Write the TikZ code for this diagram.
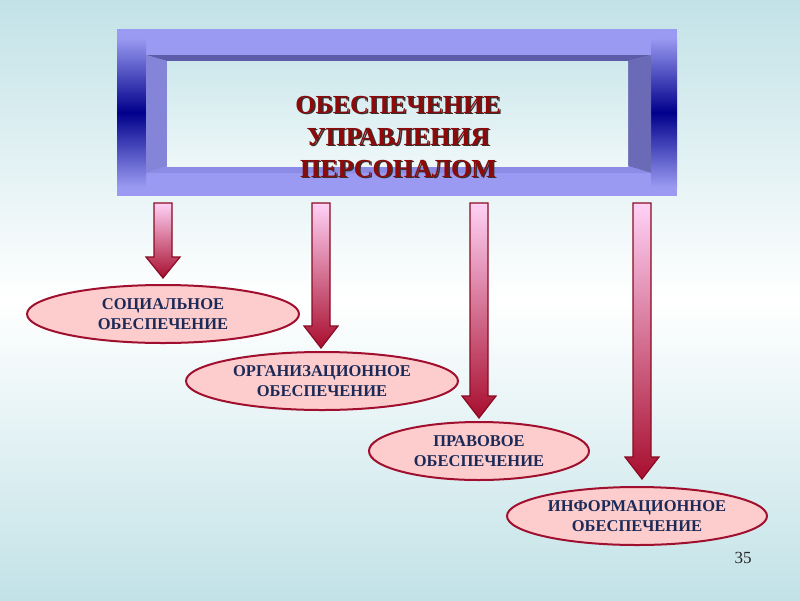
\documentclass[tikz,border=0pt]{standalone}
\usepackage{fontspec}
\setmainfont{Liberation Serif}
\usetikzlibrary{shapes.geometric, positioning}
\definecolor{bgTeal}{HTML}{C2E2E7}
\definecolor{framePeri}{HTML}{9A9AF2}
\definecolor{frameNavy}{HTML}{00008C}
\definecolor{bevelTop}{HTML}{5C5CA8}
\definecolor{bevelLeft}{HTML}{8484D8}
\definecolor{bevelRight}{HTML}{6A6AB6}
\definecolor{bevelBottom}{HTML}{8C8CE6}
\definecolor{windowTop}{HTML}{CDE8EC}
\definecolor{windowBottom}{HTML}{EEF7F8}
\definecolor{titleRed}{HTML}{8E0A0A}
\definecolor{arrowPink}{HTML}{FFD2F6}
\definecolor{arrowRed}{HTML}{A80E2E}
\definecolor{arrowEdge}{HTML}{8A0A22}
\definecolor{ovalFill}{HTML}{FDCDCD}
\definecolor{ovalEdge}{HTML}{A0102E}
\definecolor{ovalText}{HTML}{1C2A58}
\tikzset{%
% Specifications for style of nodes:
titletext/.style = {align=center, font=\fontsize{26}{32}\selectfont\bfseries},
oval/.style = {ellipse, draw=ovalEdge, line width=2pt, fill=ovalFill, inner sep=0, minimum height=58pt, text=ovalText, align=center, font=\fontsize{16.5}{20}\selectfont\bfseries},
blockarrow/.style = {draw=arrowEdge, line width=1.2pt, top color=arrowPink, bottom color=arrowRed},
}
\begin{document}
\begin{tikzpicture}[x=1pt, y=-1pt]
        % Background
        \shade[top color=bgTeal, bottom color=bgTeal, middle color=white] (0,0) rectangle (800,600);
        \useasboundingbox (0,0) rectangle (800,600);

        % Frame with bevel
        \fill[framePeri] (117,29) rectangle (677,196);
        \shade[top color=framePeri, bottom color=framePeri, middle color=frameNavy] (117,38) rectangle (146,187);
        \shade[top color=framePeri, bottom color=framePeri, middle color=frameNavy] (651,38) rectangle (677,187);
        \fill[bevelTop] (146,55) -- (651,55) -- (628,61) -- (167,61) -- cycle;
        \fill[bevelLeft] (146,55) -- (167,61) -- (167,166) -- (146,173) -- cycle;
        \fill[bevelRight] (651,55) -- (628,61) -- (628,166) -- (651,173) -- cycle;
        \fill[bevelBottom] (146,173) -- (167,166) -- (628,166) -- (651,173) -- cycle;
        \shade[top color=windowTop, bottom color=windowBottom] (167,61) rectangle (628,166);

        % Title
        \node (titleShadow) at (399.5,138.5) [titletext, text=black!80] {ОБЕСПЕЧЕНИЕ\\УПРАВЛЕНИЯ\\ПЕРСОНАЛОМ};
        \node (title) at (398,137) [titletext, text=titleRed] {ОБЕСПЕЧЕНИЕ\\УПРАВЛЕНИЯ\\ПЕРСОНАЛОМ};

        % Ovals
        \node (social) at (163,314) [oval, minimum width=272pt] {СОЦИАЛЬНОЕ\\ОБЕСПЕЧЕНИЕ};
        \node (organizational) at (322,381) [oval, minimum width=272pt] {ОРГАНИЗАЦИОННОЕ\\ОБЕСПЕЧЕНИЕ};
        \node (legal) at (479,451) [oval, minimum width=220pt] {ПРАВОВОЕ\\ОБЕСПЕЧЕНИЕ};
        \node (informational) at (637,516) [oval, minimum width=260pt] {ИНФОРМАЦИОННОЕ\\ОБЕСПЕЧЕНИЕ};

        % Block arrows
        \foreach \ax/\hy/\ty in {163/257/278, 321/326/348, 479/396/418, 642/457/479}
            \shade[blockarrow] ({\ax-9},203) -- ({\ax+9},203) -- ({\ax+9},\hy) -- ({\ax+17},\hy) -- (\ax,\ty) -- ({\ax-17},\hy) -- ({\ax-9},\hy) -- cycle;

        \node (pageNo) at (743,558) [font=\fontsize{17}{20}\selectfont, text=black!85] {35};
    \end{tikzpicture}
\end{document}
